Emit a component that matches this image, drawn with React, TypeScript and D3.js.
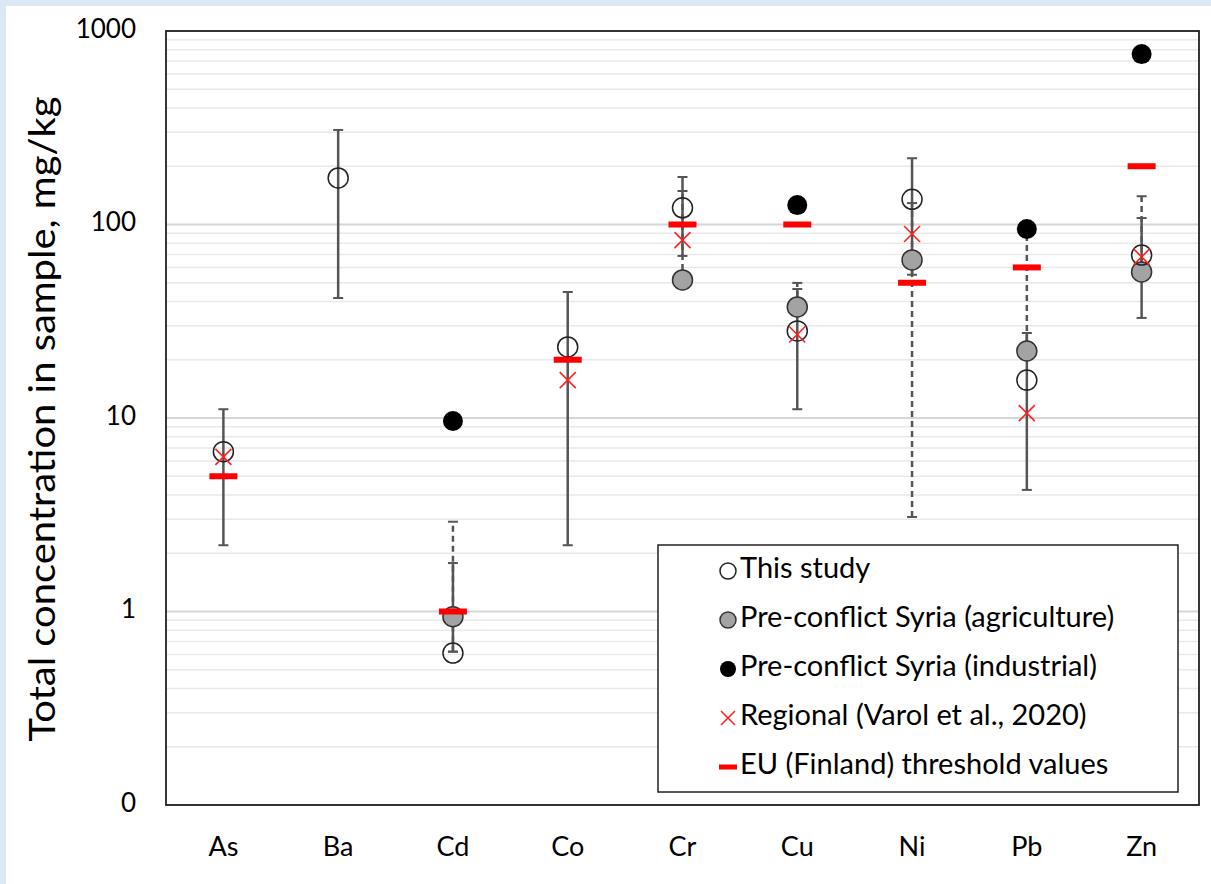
import React from 'react';
import * as d3 from 'd3';

const elements = ['As', 'Ba', 'Cd', 'Co', 'Cr', 'Cu', 'Ni', 'Pb', 'Zn'];
// This study: mean with min/max range (solid error bars)
const thisStudy = [6.7, 174, 0.61, 23.3, 122, 28.2, 135, 15.7, 69.5];
const studyLow = [2.2, 41.7, 0.62, 2.2, 68.8, 11.1, 55, 4.25, 32.9];
const studyHigh = [11.1, 308, 1.78, 44.8, 176, 46.4, 220, 27.5, 108];
// Pre-conflict Syria (agriculture) with dashed range
const agriculture = [null, null, 0.94, null, 51.7, 37.5, 65.6, 22.2, 56.9];
const agriLow = [null, null, 0.62, null, 51.7, 37.5, 3.08, 22.2, 56.9];
const agriHigh = [null, null, 2.91, null, 149, 49.9, 129, 90, 140];
const industrial = [null, null, 9.65, null, null, 126, null, 94.8, 760];
const regional = [6.3, null, null, 15.7, 83, 27, 89.3, 10.6, 68];
const euThreshold = [5, null, 1, 20, 100, 100, 50, 60, 200];

const yTicks = [0.1, 1, 10, 100, 1000];
const yTickLabels = ['0', '1', '10', '100', '1000'];

const legendItems = [
  { key: 'study', label: 'This study' },
  { key: 'agri', label: 'Pre-conflict Syria (agriculture)' },
  { key: 'ind', label: 'Pre-conflict Syria (industrial)' },
  { key: 'reg', label: 'Regional (Varol et al., 2020)' },
  { key: 'eu', label: 'EU (Finland) threshold values' },
];

const W = 1211;
const H = 884;
const FONT = 'Lato, "Open Sans", sans-serif';
const margin = { top: 31, right: 12, bottom: 79, left: 166 };

export default function App() {
  const width = W - margin.left - margin.right;
  const height = H - margin.top - margin.bottom;

  const x = d3.scaleBand().domain(elements).range([0, width]);
  const y = d3.scaleLog().domain([0.1, 1000]).range([height, 0]);

  const minor: number[] = [];
  for (let p = -1; p < 3; p++) {
    for (let m = 2; m <= 9; m++) minor.push(m * Math.pow(10, p));
  }

  const cx = (i: number) => (x(elements[i]) as number) + x.bandwidth() / 2;
  const r = 10;
  const cap = 5;

  const errBar = (i: number, lo: number, hi: number, dashed: boolean, key: string) => (
    <g key={key} stroke="#555" strokeWidth={2.5}>
      <line x1={cx(i)} x2={cx(i)} y1={y(lo)} y2={y(hi)} strokeDasharray={dashed ? '6,4' : undefined} />
      <line x1={cx(i) - cap} x2={cx(i) + cap} y1={y(lo)} y2={y(lo)} strokeWidth={2} />
      <line x1={cx(i) - cap} x2={cx(i) + cap} y1={y(hi)} y2={y(hi)} strokeWidth={2} />
    </g>
  );

  const cross = (px: number, py: number, s: number, key?: string) => (
    <g key={key} stroke="#ff2020" strokeWidth={1.6}>
      <line x1={px - s} x2={px + s} y1={py - s} y2={py + s} />
      <line x1={px - s} x2={px + s} y1={py + s} y2={py - s} />
    </g>
  );

  const legendX = 658 - margin.left;
  const legendY = 545 - margin.top;

  return (
    <div>
      <style>{`body{margin:0}`}</style>
      <svg width={W} height={H} style={{ display: 'block', fontFamily: FONT }}>
        <rect x={0} y={0} width={W} height={H} fill="#dce7f4" />
        <rect x={6} y={6} width={W - 6} height={H - 6} fill="#ffffff" />

        <text
          transform={`translate(46, ${margin.top + height / 2 + 1}) rotate(-90)`}
          textAnchor="middle"
          dominantBaseline="middle"
          fontSize={37}
          textLength={645}
          lengthAdjust="spacingAndGlyphs"
          fill="#000"
        >
          Total concentration in sample, mg/kg
        </text>

        <g transform={`translate(${margin.left}, ${margin.top})`}>
          {minor.map((v) => (
            <line key={'m' + v} x1={0} x2={width} y1={y(v)} y2={y(v)} stroke="#e9e9e9" strokeWidth={1.5} />
          ))}
          {yTicks.map((v) => (
            <line key={'g' + v} x1={0} x2={width} y1={y(v)} y2={y(v)} stroke="#d6d6d6" strokeWidth={2} />
          ))}

          {yTicks.map((v, i) => (
            <text key={'t' + v} x={-30} y={y(v)} textAnchor="end" dominantBaseline="middle" fontSize={26} fill="#000">
              {yTickLabels[i]}
            </text>
          ))}
          {elements.map((e, i) => (
            <text key={'x' + e} x={cx(i)} y={height + 44} textAnchor="middle" dominantBaseline="middle" fontSize={27} fill="#000">
              {e}
            </text>
          ))}

          {elements.map((e, i) =>
            agriLow[i] != null ? errBar(i, agriLow[i] as number, agriHigh[i] as number, true, 'ad' + e) : null
          )}
          {elements.map((e, i) => errBar(i, studyLow[i], studyHigh[i], false, 'sd' + e))}

          {elements.map((e, i) =>
            agriculture[i] != null ? (
              <circle key={'a' + e} cx={cx(i)} cy={y(agriculture[i] as number)} r={r} fill="#a3a3a3" stroke="#333" strokeWidth={1.5} />
            ) : null
          )}
          {elements.map((e, i) =>
            industrial[i] != null ? (
              <circle key={'b' + e} cx={cx(i)} cy={y(industrial[i] as number)} r={r} fill="#000" />
            ) : null
          )}
          {elements.map((e, i) => (
            <circle key={'s' + e} cx={cx(i)} cy={y(thisStudy[i])} r={r} fill="none" stroke="#222" strokeWidth={1.5} />
          ))}
          {elements.map((e, i) =>
            euThreshold[i] != null ? (
              <rect key={'eu' + e} x={cx(i) - 14} y={y(euThreshold[i] as number) - 3} width={28} height={6} fill="#ff0000" />
            ) : null
          )}
          {elements.map((e, i) =>
            regional[i] != null ? cross(cx(i), y(regional[i] as number), 8, 'r' + e) : null
          )}

          <rect x={0} y={0} width={width} height={height} fill="none" stroke="#222" strokeWidth={1.8} />

          <g transform={`translate(${legendX}, ${legendY})`}>
            <rect x={0} y={0} width={520} height={247} fill="#fff" stroke="#222" strokeWidth={1.5} />
            {legendItems.map((it, i) => {
              const ly = 26 + i * 49;
              const mx = 70;
              let marker: React.ReactNode = null;
              if (it.key === 'study') marker = <circle cx={mx} cy={ly} r={8} fill="none" stroke="#222" strokeWidth={1.5} />;
              if (it.key === 'agri') marker = <circle cx={mx} cy={ly} r={8} fill="#a3a3a3" stroke="#333" strokeWidth={1.5} />;
              if (it.key === 'ind') marker = <circle cx={mx} cy={ly} r={8} fill="#000" />;
              if (it.key === 'reg') marker = cross(mx, ly, 7);
              if (it.key === 'eu') marker = <rect x={mx - 9} y={ly - 2.5} width={18} height={5} fill="#ff0000" />;
              return (
                <g key={it.key}>
                  {marker}
                  <text x={82} y={ly} dominantBaseline="middle" fontSize={29} fill="#000">
                    {it.label}
                  </text>
                </g>
              );
            })}
          </g>
        </g>
      </svg>
    </div>
  );
}
